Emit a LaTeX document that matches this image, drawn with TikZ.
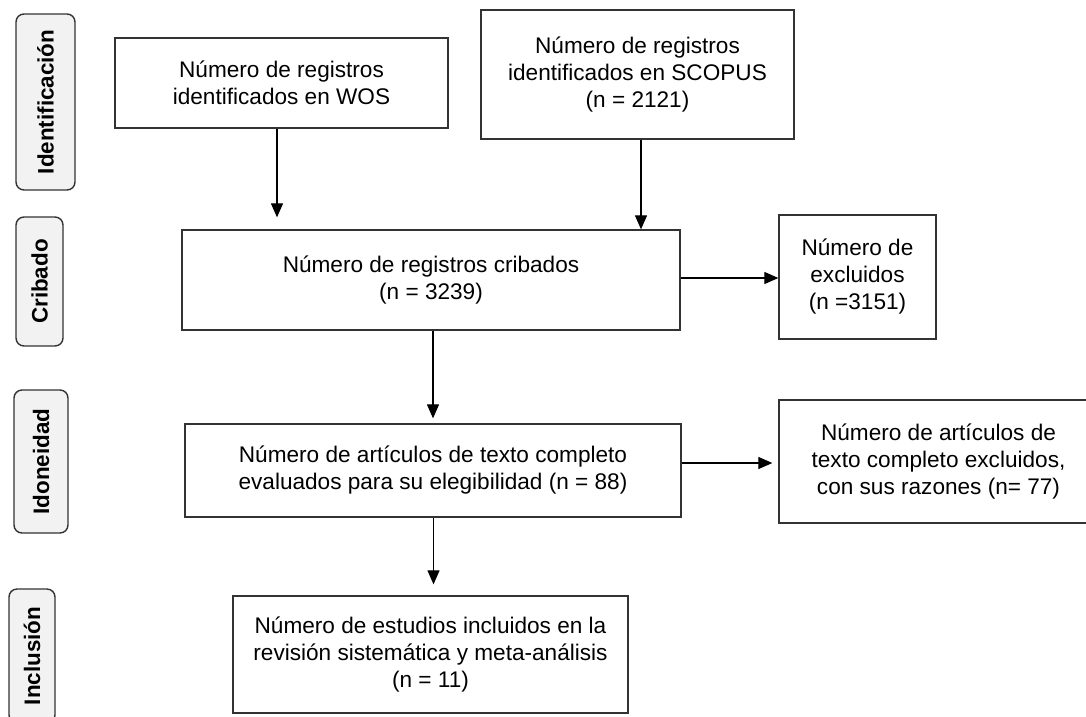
\documentclass[tikz,border=0pt]{standalone}
\usepackage{fontspec}
\setmainfont{Liberation Sans}
\usetikzlibrary{arrows.meta}
\definecolor{labfill}{HTML}{F2F2F2}
\definecolor{edge}{HTML}{333333}
\tikzset{
  stagebox/.style={draw=edge, line width=1.4pt, fill=labfill, rounded corners=8pt,
    rotate=90, inner sep=0pt, font=\fontsize{22.4}{26}\selectfont\bfseries},
  flowbox/.style={draw=edge, line width=1.3pt, rectangle, inner sep=0pt, align=center,
    font=\fontsize{22.6}{27}\selectfont},
  arr/.style={draw=black, line width=1.2pt, -{Triangle[length=14pt,width=12pt]}}
}
\begin{document}
\begin{tikzpicture}[x=1pt,y=-1pt]
\useasboundingbox (0,0) rectangle (1086,716);
\clip (0,0) rectangle (1086,716);
% stage labels
\node[stagebox, minimum width=176pt, minimum height=59pt] (lab1) at (45.5,102) {Identificación};
\node[stagebox, minimum width=129pt, minimum height=47pt] (lab2) at (39.5,281.5) {Cribado};
\node[stagebox, minimum width=143pt, minimum height=54pt] (lab3) at (41,461.5) {Idoneidad};
\node[stagebox, minimum width=134pt, minimum height=46pt] (lab4) at (32,656) {Inclusión};
% flow boxes
\node[flowbox, minimum width=333pt, minimum height=90pt] (wos) at (281.5,83)
  {Número de registros\\identificados en WOS};
\node[flowbox, minimum width=313pt, minimum height=129pt] (scopus) at (637.5,74.5)
  {Número de registros\\identificados en SCOPUS\\(n = 2121)};
\node[flowbox, minimum width=498pt, minimum height=100pt] (crib) at (431,280)
  {Número de registros cribados\\(n = 3239)};
\node[flowbox, minimum width=157pt, minimum height=124pt] (excl1) at (857.5,277)
  {Número de\\excluidos\\(n =3151)};
\node[flowbox, minimum width=496pt, minimum height=93pt] (idon) at (433,470.5)
  {Número de artículos de texto completo\\evaluados para su elegibilidad (n = 88)};
\node[flowbox, minimum width=319pt, minimum height=123pt] (excl2) at (938.5,461.5)
  {Número de artículos de\\texto completo excluidos,\\con sus razones (n= 77)};
\node[flowbox, minimum width=395pt, minimum height=117pt] (incl) at (430.5,654.5)
  {Número de estudios incluidos en la\\revisión sistemática y meta-análisis\\(n = 11)};
% connectors
\draw[arr, shorten >=12pt] ([xshift=-4.5pt]wos.south) -- ([xshift=-4.5pt]wos.south |- crib.north);
\draw[arr] ([xshift=3.5pt]scopus.south) -- ([xshift=3.5pt]scopus.south |- crib.north);
\draw[arr, shorten >=5pt] ([xshift=2pt]crib.south) -- ([xshift=2pt]crib.south |- idon.north);
\draw[arr, shorten >=11pt] ([xshift=0.5pt]idon.south) -- ([xshift=0.5pt]idon.south |- incl.north);
\draw[arr] ([yshift=2pt]crib.east) -- ([yshift=2pt]crib.east -| excl1.west);
\draw[arr, shorten >=6pt] ([yshift=7.5pt]idon.east) -- ([yshift=7.5pt]idon.east -| excl2.west);
\end{tikzpicture}
\end{document}
